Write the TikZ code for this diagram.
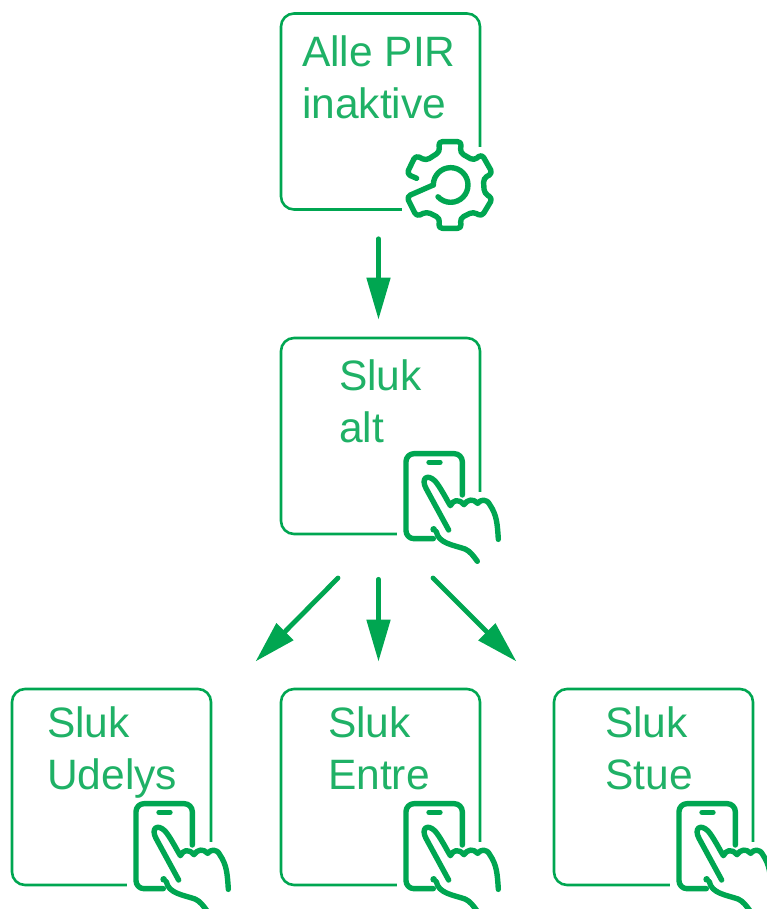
\documentclass[tikz,border=0pt]{standalone}
\usepackage{fontspec}
\setmainfont{Liberation Sans}
\usetikzlibrary{arrows.meta}
\definecolor{gronn}{RGB}{0,166,81}

\tikzset{
  box/.style={draw=gronn, line width=2.6pt, rounded corners=13pt, minimum width=199pt, minimum height=196pt, inner sep=0pt},
  boxtext/.style={text=gronn!88, anchor=base west, align=left, font=\fontsize{42.5}{52}\selectfont, inner sep=0pt},
  flow/.style={draw=gronn, line width=4.8pt, line cap=round, -{Triangle[length=42pt,width=23pt]}},
  icon/.style={draw=gronn, line width=5.4pt, line cap=round, line join=round},
  phonehand/.pic={
    \begin{scope}[x=.3333pt,y=-.3333pt]
    \fill[white] (20,155) rectangle (305,340);
    %phone
    \draw[icon, rounded corners=8pt] (217,165) -- (217,41) -- (48,41) -- (48,296) -- (130,296);
    \draw[icon] (117,67) -- (150,67);
    %hand
    \draw[icon] (176,270) -- (108,145) .. controls (92,115) and (112,100) .. (135,123) .. controls (150,140) and (165,170) .. (181,197)
      .. controls (190,180) and (205,175) .. (222,194) .. controls (232,178) and (250,175) .. (263,190) .. controls (272,178) and (290,175) .. (300,195)
      .. controls (320,225) and (322,250) .. (325,298);
    \fill[gronn] (131,268) circle (10);
    \draw[icon] (139,275) .. controls (145,310) and (190,315) .. (225,327) .. controls (240,333) and (252,350) .. (262,364);
    \end{scope}
  },
  gear/.pic={
    \begin{scope}[x=.3333pt,y=-.3333pt]
    \fill[white] (395,442) rectangle (680,690);
    \draw[icon, rounded corners=4pt] (440,535) -- (410,522) -- (437,466) -- (468,482) -- (510,455) -- (505,425) -- (575,425) -- (570,458) -- (612,482) -- (635,462) -- (668,520) -- (640,535) -- (643,580) -- (668,595) -- (635,650) -- (610,635) -- (570,655) -- (575,685) -- (505,685) -- (510,655) -- (470,635) -- (440,650) -- (410,590) -- (490,555);
    \draw[icon] (490,555) arc[start angle=180, end angle=497, radius=52];
    \end{scope}
  }
}

\begin{document}
\begin{tikzpicture}[x=1pt,y=-1pt]
\useasboundingbox (0,0) rectangle (766,909);

%boxes
\node[box] (pir) at (380.5,111.5) {};
\node[box] (alt) at (380.5,436) {};
\node[box] (udelys) at (111.5,787) {};
\node[box] (entre) at (380.5,787) {};
\node[box] (stue) at (653.5,787) {};

%texts
\node[boxtext] (pirtext) at (302,119) {Alle PIR\\inaktive};
\node[boxtext] (alttext) at (339,442) {Sluk\\alt};
\node[boxtext] (udelystext) at (47,789) {Sluk\\Udelys};
\node[boxtext] (entretext) at (328,789) {Sluk\\Entre};
\node[boxtext] (stuetext) at (605,789) {Sluk\\Stue};

%icons
\pic at (270,0) {gear};
\pic at (390,440) {phonehand};
\pic at (120,790) {phonehand};
\pic at (390,790) {phonehand};
\pic at (663,790) {phonehand};

%arrows
\coordinate (altleft) at (338,578);
\coordinate (altright) at (433,578);
\coordinate (udelystip) at (255.5,661.5);
\coordinate (stuetip) at (516.5,661.5);
\draw[flow, shorten <=28pt, shorten >=17pt] ([xshift=-2pt]pir.south) -- ([xshift=-2pt]alt.north);
\draw[flow] (altleft) -- (udelystip);
\draw[flow, shorten <=44pt, shorten >=26pt] ([xshift=-2pt]alt.south) -- ([xshift=-2pt]entre.north);
\draw[flow] (altright) -- (stuetip);
\end{tikzpicture}
\end{document}
